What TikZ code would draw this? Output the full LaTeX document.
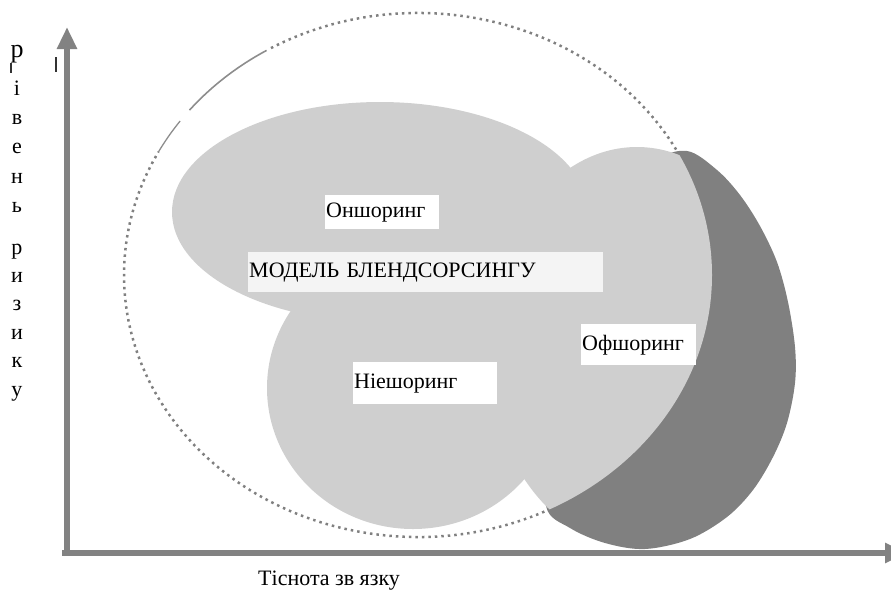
\documentclass[tikz,border=0pt]{standalone}
\usepackage{fontspec}
\setmainfont{Liberation Serif}
\usetikzlibrary{arrows.meta}
\definecolor{lightfill}{RGB}{207,207,207}
\definecolor{darkfill}{RGB}{128,128,128}
\definecolor{axisgray}{RGB}{130,130,130}
\definecolor{blendfill}{RGB}{244,244,244}
\tikzset{
  labelbox/.style={fill=white, anchor=north west, inner xsep=1pt, inner ysep=0pt, align=left,
    font=\fontsize{22}{26}\selectfont, text height=15.5pt, text depth=4.5pt},
  axisline/.style={draw=axisgray, line width=6.5pt, -{Triangle[length=22pt,width=19pt]}},
  letter/.style={anchor=base, inner sep=0pt, font=\fontsize{22}{26}\selectfont},
  dotring/.style={draw=darkfill, line width=2.5pt, dash pattern=on 2.5pt off 4pt},
}
\begin{document}
\begin{tikzpicture}[x=1pt,y=-1pt]
    \useasboundingbox (0,0) rectangle (891,590);
    \clip (0,0) rectangle (891,590);

    % dotted ring of the model
    \draw[dotring] (418,275) ++(-120:294 and 262) arc[start angle=-120, end angle=208, x radius=294, y radius=262];
    \draw[darkfill!90, line width=1.6pt] (418,275) ++(-121:294 and 262) arc[start angle=-121, end angle=-141, x radius=294, y radius=262];
    \draw[darkfill!90, line width=1.3pt] (418,275) ++(-144:294 and 262) arc[start angle=-144, end angle=-152, x radius=294, y radius=262];

    % offshoring (dark)
    \fill[darkfill] plot[smooth cycle, tension=0.55] coordinates {(687,151) (717,170) (740,195) (760,226) (777,262)
      (788,302) (795,347) (795,383) (787,423) (773,457) (753,490) (727,517) (690,539) (645,549)
      (605,543) (570,528) (546,506) (552,440) (580,330) (620,220) (655,163)};

    % light blobs inside the ring
    \begin{scope}
      \clip (418,275) ellipse [x radius=294, y radius=262];
      \fill[lightfill] (380,212) ellipse [x radius=208, y radius=110];
      \fill[lightfill] (413,388) ellipse [x radius=146, y radius=141];
      \fill[lightfill] (637,347) ellipse [x radius=150, y radius=200];
    \end{scope}

    % labels
    \node[labelbox, text width=112pt, minimum height=34pt] (onshore) at (325,195) {Оншоринг};
    \node[labelbox, fill=blendfill, text width=353pt, minimum height=40pt] (blend) at (248,252) {МОДЕЛЬ БЛЕНДСОРСИНГУ};
    \node[labelbox, text width=113pt, minimum height=41pt] (offshore) at (581,324) {Офшоринг};
    \node[labelbox, text width=142pt, minimum height=42pt] (nearshore) at (353,362) {Ніешоринг};

    % axes
    \coordinate (ytip) at (67,27); \coordinate (xtip) at (907,553);
    \draw[axisline] (67,556) -- (ytip);
    \draw[axisline] (62,553) -- (xtip);
    \draw[black!80, line width=1.3pt] (56,57) -- (56,72);
    \draw[black!80, line width=1.1pt] (11,63) -- (11,73);

    \node[anchor=base west, inner sep=0pt, font=\fontsize{22}{26}\selectfont] (closeness) at (258,585) {Тіснота зв язку};
    \node[letter, font=\fontsize{26}{30}\selectfont] (riskletter0) at (17,57) {р};
    \foreach \ch/\yy [count=\k] in {і/95, в/124, е/153.5, н/183, ь/212, р/254, и/282, з/310.5, и/339, к/367.5, у/396}
      \node[letter] (riskletter\k) at (17,\yy) {\ch};
\end{tikzpicture}
\end{document}
